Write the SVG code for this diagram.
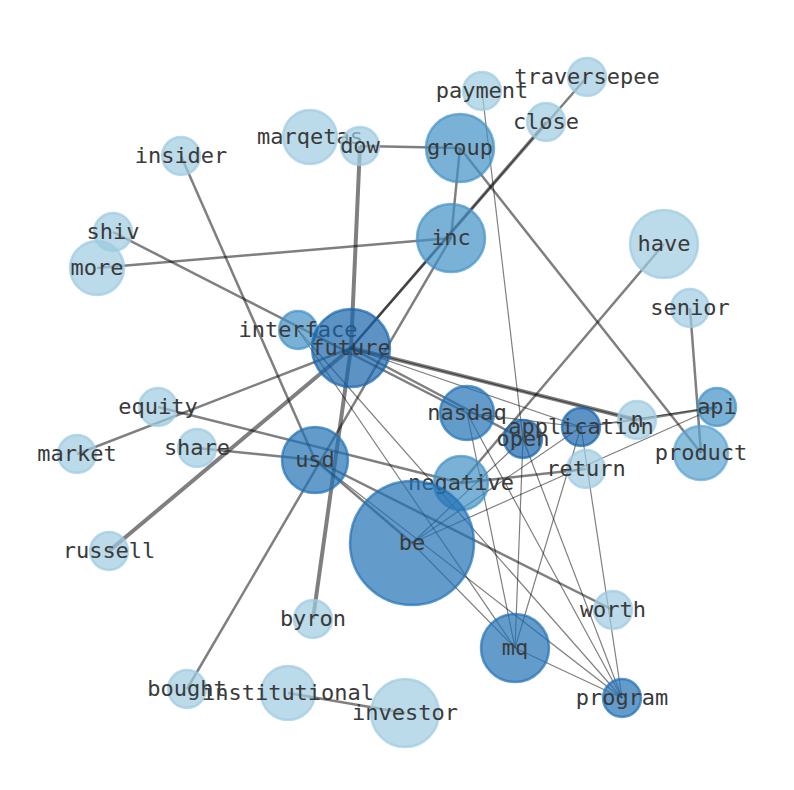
<svg xmlns="http://www.w3.org/2000/svg" width="794" height="790" viewBox="0 0 794 790">
<style>
.e{stroke:#000;stroke-opacity:0.5;fill:none;stroke-linecap:butt}
.w4{stroke-width:4}
.w2{stroke-width:2.5}
.w1{stroke-width:1.2}
circle{stroke-width:2.5;fill-opacity:0.7;stroke-opacity:0.7}
.t1{fill:#9ecae1;stroke:#9ecae1}
.t2{fill:#6baed6;stroke:#6baed6}
.t25{fill:#5ba3d0;stroke:#5ba3d0}
.t3{fill:#4292c6;stroke:#4292c6}
.t4{fill:#2171b5;stroke:#2171b5}
.t5{fill:#1764ab;stroke:#1764ab}
text{font-family:"DejaVu Sans Mono","Liberation Mono",monospace;font-size:22px;fill:#3a3a3a;text-anchor:middle}
</style>
<rect width="794" height="790" fill="#fff"/>
<g id="edges">
<line class="e w4" x1="360" y1="146" x2="351" y2="348"/>
<line class="e w4" x1="351" y1="348" x2="313" y2="619"/>
<line class="e w4" x1="109" y1="551" x2="351" y2="348"/>
<line class="e w4" x1="351" y1="348" x2="637" y2="420"/>
<line class="e w2" x1="360" y1="146" x2="460" y2="148"/>
<line class="e w2" x1="460" y1="148" x2="451" y2="238"/>
<line class="e w2" x1="460" y1="148" x2="701" y2="453"/>
<line class="e w2" x1="587" y1="77" x2="351" y2="348"/>
<line class="e w2" x1="546" y1="122" x2="351" y2="348"/>
<line class="e w2" x1="97" y1="268" x2="451" y2="238"/>
<line class="e w2" x1="181" y1="156" x2="315" y2="460"/>
<line class="e w2" x1="187" y1="689" x2="451" y2="238"/>
<line class="e w2" x1="158" y1="407" x2="461" y2="483"/>
<line class="e w2" x1="77" y1="454" x2="351" y2="348"/>
<line class="e w2" x1="197" y1="448" x2="315" y2="460"/>
<line class="e w2" x1="315" y1="460" x2="613" y2="610"/>
<line class="e w2" x1="315" y1="460" x2="412" y2="543"/>
<line class="e w2" x1="664" y1="244" x2="461" y2="483"/>
<line class="e w2" x1="690" y1="308" x2="701" y2="453"/>
<line class="e w2" x1="637" y1="420" x2="717" y2="407"/>
<line class="e w2" x1="461" y1="483" x2="586" y2="469"/>
<line class="e w2" x1="288" y1="693" x2="405" y2="713"/>
<line class="e w2" x1="113" y1="232" x2="467" y2="413"/>
<line class="e w2" x1="351" y1="348" x2="523" y2="439"/>
<line class="e w1" x1="482" y1="91" x2="523" y2="439"/>
<line class="e w1" x1="523" y1="439" x2="515" y2="648"/>
<line class="e w1" x1="523" y1="439" x2="622" y2="698"/>
<line class="e w1" x1="581" y1="427" x2="515" y2="648"/>
<line class="e w1" x1="581" y1="427" x2="622" y2="698"/>
<line class="e w1" x1="467" y1="413" x2="515" y2="648"/>
<line class="e w1" x1="467" y1="413" x2="622" y2="698"/>
<line class="e w1" x1="467" y1="413" x2="581" y2="427"/>
<line class="e w1" x1="412" y1="543" x2="523" y2="439"/>
<line class="e w1" x1="412" y1="543" x2="581" y2="427"/>
<line class="e w1" x1="412" y1="543" x2="717" y2="407"/>
<line class="e w1" x1="412" y1="543" x2="515" y2="648"/>
<line class="e w1" x1="315" y1="460" x2="622" y2="698"/>
<line class="e w1" x1="515" y1="648" x2="622" y2="698"/>
<line class="e w1" x1="351" y1="348" x2="581" y2="427"/>
<line class="e w1" x1="298" y1="330" x2="515" y2="648"/>
<line class="e w1" x1="298" y1="330" x2="622" y2="698"/>
<line class="e w1" x1="581" y1="427" x2="637" y2="420"/>
<line class="e w1" x1="581" y1="427" x2="717" y2="407"/>
<line class="e w1" x1="351" y1="348" x2="637" y2="420"/>
</g>
<g id="n-traversepee"><circle class="t1" cx="587" cy="77" r="19"/><text x="587" y="84">traversepee</text></g>
<g id="n-payment"><circle class="t1" cx="482" cy="91" r="19"/><text x="482" y="98">payment</text></g>
<g id="n-close"><circle class="t1" cx="546" cy="122" r="19"/><text x="546" y="129">close</text></g>
<g id="n-marqetas"><circle class="t1" cx="310" cy="137" r="27"/><text x="310" y="144">marqetas</text></g>
<g id="n-dow"><circle class="t1" cx="360" cy="146" r="19"/><text x="360" y="153">dow</text></g>
<g id="n-group"><circle class="t3" cx="460" cy="148" r="34"/><text x="460" y="155">group</text></g>
<g id="n-insider"><circle class="t1" cx="181" cy="156" r="19"/><text x="181" y="163">insider</text></g>
<g id="n-inc"><circle class="t3" cx="451" cy="238" r="34"/><text x="451" y="245">inc</text></g>
<g id="n-have"><circle class="t1" cx="664" cy="244" r="34"/><text x="664" y="251">have</text></g>
<g id="n-shiv"><circle class="t1" cx="113" cy="232" r="19"/><text x="113" y="239">shiv</text></g>
<g id="n-more"><circle class="t1" cx="97" cy="268" r="27"/><text x="97" y="275">more</text></g>
<g id="n-senior"><circle class="t1" cx="690" cy="308" r="19"/><text x="690" y="315">senior</text></g>
<g id="n-interface"><circle class="t3" cx="298" cy="330" r="19"/><text x="298" y="337">interface</text></g>
<g id="n-future"><circle class="t5" cx="351" cy="348" r="39"/><text x="351" y="355">future</text></g>
<g id="n-equity"><circle class="t1" cx="158" cy="407" r="19"/><text x="158" y="414">equity</text></g>
<g id="n-nasdaq"><circle class="t4" cx="467" cy="413" r="27"/><text x="467" y="420">nasdaq</text></g>
<g id="n-n"><circle class="t1" cx="637" cy="420" r="19"/><text x="637" y="427">n</text></g>
<g id="n-api"><circle class="t3" cx="717" cy="407" r="19"/><text x="717" y="414">api</text></g>
<g id="n-open"><circle class="t5" cx="523" cy="439" r="19"/><text x="523" y="446">open</text></g>
<g id="n-application"><circle class="t5" cx="581" cy="427" r="19"/><text x="581" y="434">application</text></g>
<g id="n-market"><circle class="t1" cx="77" cy="454" r="19"/><text x="77" y="461">market</text></g>
<g id="n-share"><circle class="t1" cx="197" cy="448" r="19"/><text x="197" y="455">share</text></g>
<g id="n-product"><circle class="t25" cx="701" cy="453" r="27"/><text x="701" y="460">product</text></g>
<g id="n-usd"><circle class="t4" cx="315" cy="460" r="33"/><text x="315" y="467">usd</text></g>
<g id="n-return"><circle class="t1" cx="586" cy="469" r="19"/><text x="586" y="476">return</text></g>
<g id="n-negative"><circle class="t3" cx="461" cy="483" r="27"/><text x="461" y="490">negative</text></g>
<g id="n-be"><circle class="t4" cx="412" cy="543" r="62"/><text x="412" y="550">be</text></g>
<g id="n-russell"><circle class="t1" cx="109" cy="551" r="19"/><text x="109" y="558">russell</text></g>
<g id="n-worth"><circle class="t1" cx="613" cy="610" r="19"/><text x="613" y="617">worth</text></g>
<g id="n-byron"><circle class="t1" cx="313" cy="619" r="19"/><text x="313" y="626">byron</text></g>
<g id="n-mq"><circle class="t4" cx="515" cy="648" r="34"/><text x="515" y="655">mq</text></g>
<g id="n-program"><circle class="t4" cx="622" cy="698" r="19"/><text x="622" y="705">program</text></g>
<g id="n-bought"><circle class="t1" cx="187" cy="689" r="19"/><text x="187" y="696">bought</text></g>
<g id="n-institutional"><circle class="t1" cx="288" cy="693" r="27"/><text x="288" y="700">institutional</text></g>
<g id="n-investor"><circle class="t1" cx="405" cy="713" r="34"/><text x="405" y="720">investor</text></g>
</svg>
